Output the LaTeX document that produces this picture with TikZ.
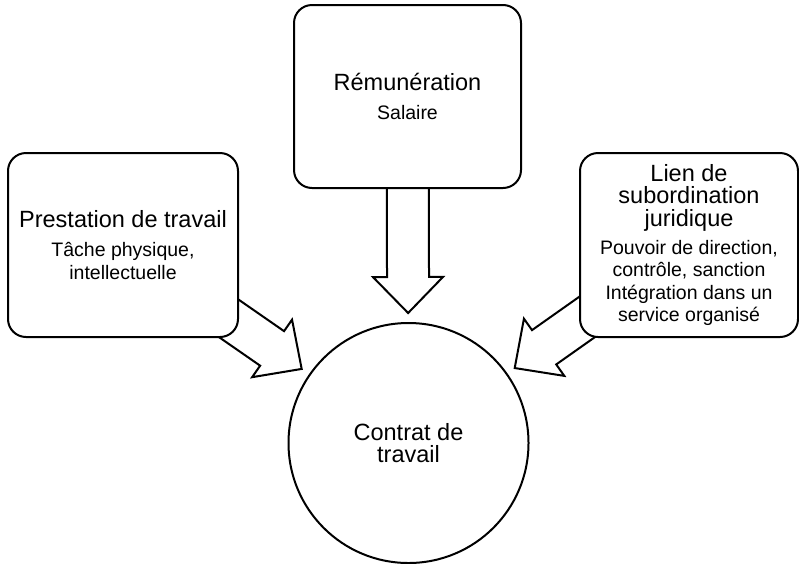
\documentclass[tikz,border=0pt]{standalone}
\usepackage{fontspec}
\setmainfont{Liberation Sans}
\usetikzlibrary{calc,backgrounds}

\newcommand{\grand}{\fontsize{23.5}{22.5}\selectfont}
\newcommand{\petit}{\fontsize{19.5}{22.5}\selectfont}

\tikzset{
    cadre/.style={draw, line width=2pt, fill=white, rounded corners=18pt, align=center, inner sep=0pt, font=\grand},
    rond/.style={draw, circle, line width=2pt, fill=white, minimum size=240pt, inner sep=0pt, align=center, font=\grand},
    fleche/.style={draw, line width=2pt, fill=white, line join=miter}
}

\begin{document}
\begin{tikzpicture}[x=1pt, y=-1pt]
            \useasboundingbox (0,0) rectangle (799,563);

            \node[rond] (contrat) at (408.5,443) {Contrat de\\travail};

            \node[cadre, minimum width=230pt, minimum height=184pt] (prest) at (123,245)
                {Prestation de travail\\[6.5pt]\petit Tâche physique,\\\petit intellectuelle};
            \node[cadre, minimum width=227pt, minimum height=183pt] (remun) at (407.5,96.5)
                {Rémunération\\[7pt]\petit Salaire};
            \node[cadre, minimum width=218pt, minimum height=184pt] (lien) at (689,245)
                {Lien de\\subordination\\juridique\\[5.5pt]\petit Pouvoir de direction,\\\petit contrôle, sanction\\\petit Intégration dans un\\\petit service organisé};

            \begin{scope}[on background layer]
            \foreach \b in {prest,remun,lien} {
                \coordinate (t) at ($(contrat.center)!130pt!(\b.center)$);
                \coordinate (h) at ($(contrat.center)!166pt!(\b.center)$);
                \draw[fleche] ($(\b.center)!21pt!90:(t)$) -- ($(h)!21pt!90:(t)$)
                    -- ($(h)!35pt!90:(t)$) -- (t) -- ($(h)!35pt!-90:(t)$)
                    -- ($(h)!21pt!-90:(t)$) -- ($(\b.center)!21pt!-90:(t)$) -- cycle;
            }
            \end{scope}
\end{tikzpicture}
\end{document}
